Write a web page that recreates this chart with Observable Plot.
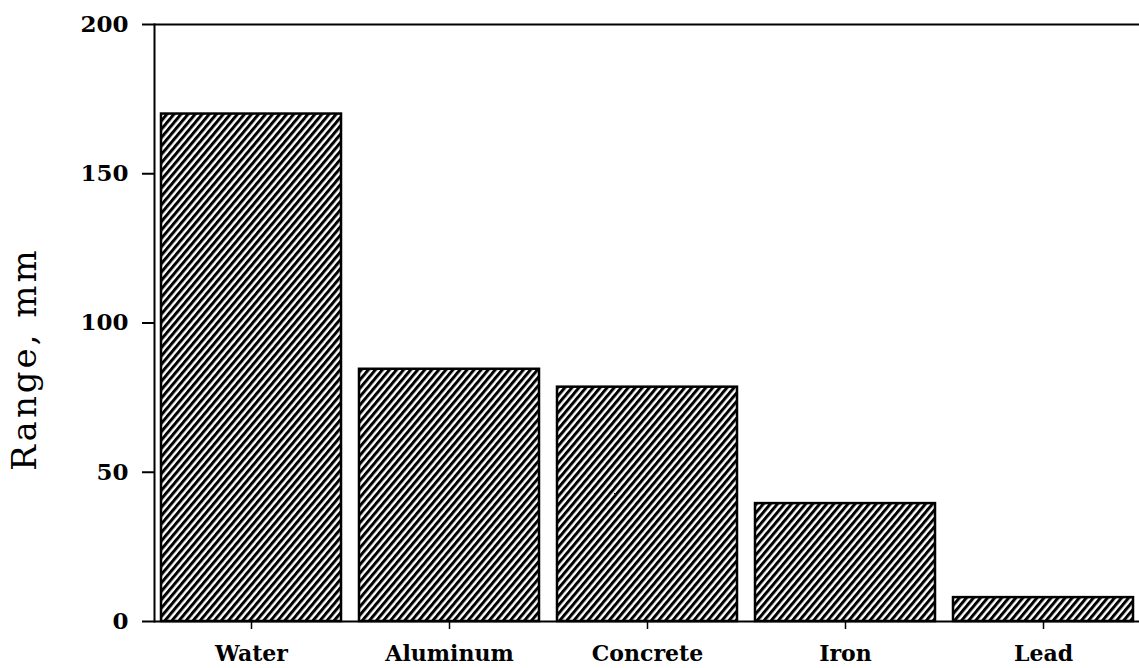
<!DOCTYPE html>
<html>
<head>
<meta charset="utf-8">
<script src="https://cdn.jsdelivr.net/npm/d3@7"></script>
<script src="https://cdn.jsdelivr.net/npm/@observablehq/plot@0.6"></script>
<style>
  html, body { margin: 0; padding: 0; background: white; }
  .ylab text { letter-spacing: 3px; }
</style>
</head>
<body>
<div id="chart"></div>
<script>
const categories = ["Water", "Aluminum", "Concrete", "Iron", "Lead"];
const ranges = [170, 84.5, 78.5, 39.5, 8];
const yTicks = [0, 50, 100, 150, 200];
const yLabel = "Range, mm";

const data = categories.map((c, i) => ({material: c, range: ranges[i]}));

const chart = Plot.plot({
  width: 1139,
  height: 668,
  marginLeft: 154,
  marginRight: 0,
  marginTop: 24,
  marginBottom: 47,
  style: {fontFamily: "'DejaVu Serif', serif", background: "white", color: "black"},
  x: {domain: categories, range: [150, 1144], paddingInner: 0.09, paddingOuter: 0.045, align: 0.5},
  y: {domain: [0, 200], ticks: yTicks},
  marks: [
    Plot.barY(data, {x: "material", y: "range", fill: "url(#hatch)", stroke: "black", strokeWidth: 2.5}),
    Plot.ruleY([0, 200], {strokeWidth: 2, stroke: "black"}),
    Plot.frame({anchor: "left", strokeWidth: 2, stroke: "black"}),
    Plot.axisY({ticks: yTicks, tickSize: 12, tickPadding: 14, tickFormat: d => String(d), fontSize: 23, fontWeight: "bold", label: null, strokeWidth: 2}),
    Plot.axisX({tickSize: 8, tickPadding: 16, fontSize: 22, fontWeight: "bold", label: null, strokeWidth: 1.5}),
    Plot.text([yLabel], {frameAnchor: "left", dx: -129, dy: 36, rotate: -90, fontSize: 34, textAnchor: "middle", className: "ylab"})
  ]
});

chart.insertAdjacentHTML("afterbegin",
  `<defs><pattern id="hatch" patternUnits="userSpaceOnUse" width="5.4" height="10" patternTransform="rotate(40)">
     <rect width="5.4" height="10" fill="white"/>
     <rect width="3" height="10" fill="black"/>
   </pattern></defs>`);

document.getElementById("chart").appendChild(chart);
</script>
</body>
</html>
